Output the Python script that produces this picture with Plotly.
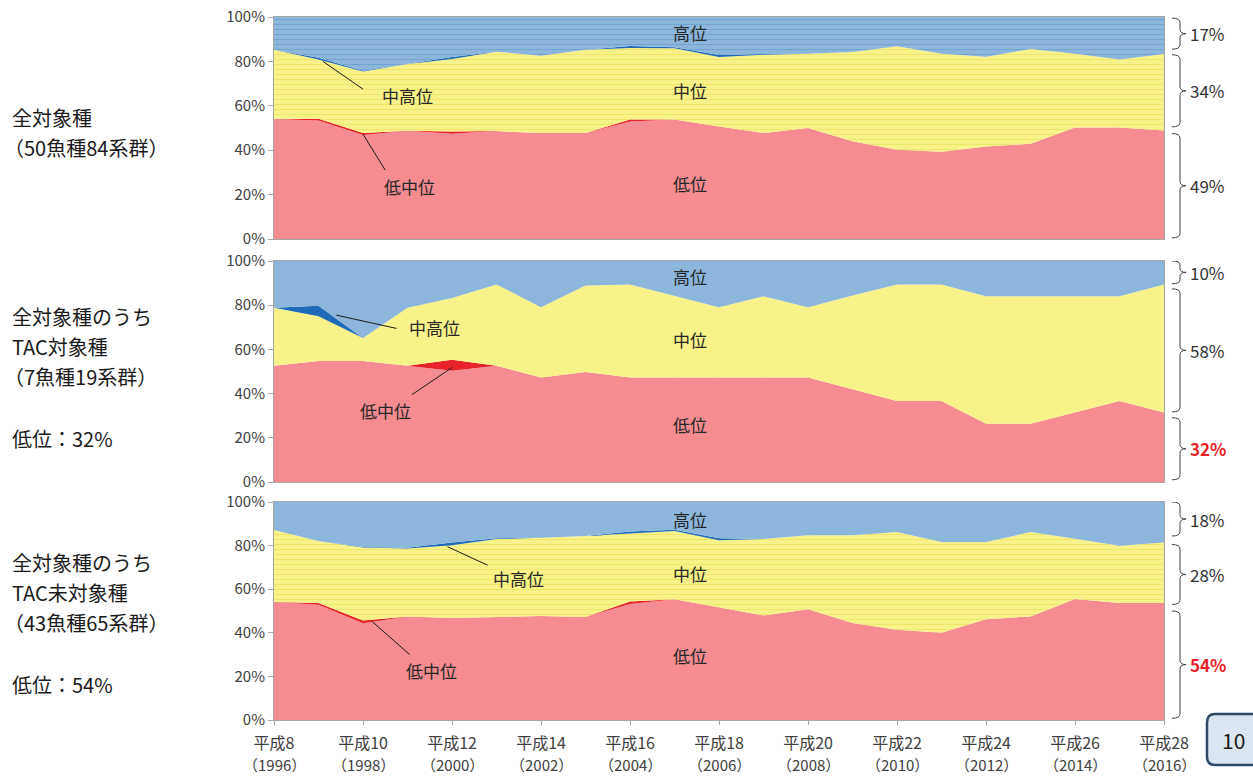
import plotly.graph_objects as go

years = list(range(1996, 2017))
tick_years = list(range(1996, 2017, 2))
tick_era = ["平成8", "平成10", "平成12", "平成14", "平成16", "平成18",
            "平成20", "平成22", "平成24", "平成26", "平成28"]
tick_western = ["（1996）", "（1998）", "（2000）", "（2002）", "（2004）", "（2006）",
                "（2008）", "（2010）", "（2012）", "（2014）", "（2016）"]
series_names = ["低位", "低中位", "中位", "中高位", "高位"]

# Panel 1: 全対象種
low1 = [54.1, 53.4, 46.8, 48.8, 47.4, 48.6, 47.7, 47.7, 52.9, 53.8, 50.7, 47.7, 50.0, 44.0, 40.2, 39.3, 41.7, 42.9, 50.2, 50.2, 48.9]
lowmid1 = [0, 0.8, 1.0, 0, 1.0, 0, 0, 0, 0.9, 0, 0, 0, 0, 0, 0, 0, 0, 0, 0, 0, 0]
mid1 = [31.2, 26.6, 27.7, 30.0, 32.7, 35.8, 34.9, 37.6, 32.2, 32.1, 31.3, 35.3, 33.5, 40.2, 46.6, 44.2, 40.4, 42.7, 33.3, 30.6, 34.4]
midhigh1 = [0, 0.8, 0.3, 0, 0.9, 0, 0, 0, 0.9, 0.5, 0.9, 0.3, 0, 0, 0, 0, 0, 0, 0, 0, 0]
high1 = [14.7, 18.4, 24.2, 21.2, 18.0, 15.6, 17.4, 14.7, 13.1, 13.6, 17.1, 16.7, 16.5, 15.8, 13.2, 16.5, 17.9, 14.4, 16.5, 19.2, 16.7]

# Panel 2: TAC対象種
low2 = [52.6, 54.8, 54.8, 52.6, 50.3, 52.6, 47.3, 49.8, 47.3, 47.3, 47.3, 47.3, 47.3, 42.0, 36.7, 36.7, 26.4, 26.4, 31.5, 36.7, 31.5]
lowmid2 = [0, 0, 0, 0, 5.0, 0, 0, 0, 0, 0, 0, 0, 0, 0, 0, 0, 0, 0, 0, 0, 0]
mid2 = [26.2, 20.2, 10.4, 26.2, 28.0, 36.8, 31.8, 39.1, 42.1, 37.1, 31.8, 36.8, 31.8, 42.4, 52.7, 52.7, 57.7, 57.7, 52.6, 47.4, 57.9]
midhigh2 = [0, 4.8, 0, 0, 0, 0, 0, 0, 0, 0, 0, 0, 0, 0, 0, 0, 0, 0, 0, 0, 0]
high2 = [21.2, 20.2, 34.8, 21.2, 16.7, 10.6, 20.9, 11.1, 10.6, 15.6, 20.9, 15.9, 20.9, 15.6, 10.6, 10.6, 15.9, 15.9, 15.9, 15.9, 10.6]

# Panel 3: TAC未対象種
low3 = [54.1, 52.9, 44.4, 47.5, 46.8, 47.2, 47.7, 47.2, 53.2, 55.4, 51.5, 47.9, 50.8, 44.5, 41.4, 40.0, 46.2, 47.5, 55.5, 53.7, 53.7]
lowmid3 = [0, 0.8, 1.2, 0, 0, 0, 0, 0, 1.2, 0, 0, 0, 0, 0, 0, 0, 0, 0, 0, 0, 0]
mid3 = [33.0, 28.4, 33.5, 31.2, 33.4, 35.8, 35.9, 37.2, 31.2, 31.3, 31.0, 35.1, 34.0, 40.3, 44.8, 41.6, 35.4, 38.7, 27.6, 26.2, 27.7]
midhigh3 = [0, 0, 0.3, 0.3, 1.2, 0.4, 0, 0, 0.9, 0.6, 0.9, 0, 0, 0, 0, 0, 0, 0, 0, 0, 0]
high3 = [12.9, 17.9, 20.6, 21.0, 18.6, 16.6, 16.4, 15.6, 13.5, 12.7, 16.6, 17.0, 15.2, 15.2, 13.8, 18.4, 18.4, 13.8, 16.9, 20.1, 18.6]

# bracket labels (right side)
bracket_labels1 = ["17%", "34%", "49%"]
bracket_labels2 = ["10%", "58%", "32%"]
bracket_labels3 = ["18%", "28%", "54%"]

panel_title_lines = [
    ["全対象種", "（50魚種84系群）"],
    ["全対象種のうち", "TAC対象種", "（7魚種19系群）", "", "低位：32%"],
    ["全対象種のうち", "TAC未対象種", "（43魚種65系群）", "", "低位：54%"],
]

# ---------------- styling / layout ----------------
W, H = 1253, 776
PL, PR, PT, PB = 274, 1164, 17, 720
FONT = "Noto Sans CJK JP"
colors = ["#F48C91", "#E8242B", "#F8F28A", "#1E6BB8", "#8CB6DC"]
pat_fg = [None, None, "#E6D74C", None, "#5E8FC2"]


def px_x(px):
    return (px - PL) / (PR - PL)


def px_y(py):
    return (PB - py) / (PB - PT)


panels = [
    ([low1, lowmid1, mid1, midhigh1, high1], (239, 17), True, True),
    ([low2, lowmid2, mid2, midhigh2, high2], (482, 261), False, False),
    ([low3, lowmid3, mid3, midhigh3, high3], (720, 502), True, False),
]

fig = go.Figure()
for i, (vals, (ybot, ytop), pat_y, pat_b) in enumerate(panels):
    xa = "x" if i == 0 else f"x{i+1}"
    ya = "y" if i == 0 else f"y{i+1}"
    for k, (name, v) in enumerate(zip(series_names, vals)):
        kw = {}
        if (k == 2 and pat_y) or (k == 4 and pat_b):
            kw["fillpattern"] = dict(shape="-", bgcolor=colors[k], fgcolor=pat_fg[k],
                                     size=5, solidity=0.2)
        fig.add_trace(go.Scatter(
            x=years, y=v, name=name, mode="lines", stackgroup=f"g{i}",
            line=dict(width=0, color=colors[k]), fillcolor=colors[k],
            xaxis=xa, yaxis=ya, showlegend=False, hoverinfo="skip", **kw))

layout = dict(width=W, height=H, paper_bgcolor="white", plot_bgcolor="white",
              margin=dict(l=PL, r=W - PR, t=PT, b=H - PB, pad=0, autoexpand=False),
              font=dict(family=FONT, color="#404040"), showlegend=False)
grid = "rgba(120,120,120,0.35)"
for i, (vals, (ybot, ytop), _, _) in enumerate(panels):
    xk = "xaxis" if i == 0 else f"xaxis{i+1}"
    yk = "yaxis" if i == 0 else f"yaxis{i+1}"
    layout[xk] = dict(
        domain=[0, 1], range=[1996, 2016], anchor="y" if i == 0 else f"y{i+1}",
        tickvals=tick_years, ticktext=tick_era, showticklabels=(i == 2),
        tickfont=dict(size=16, color="#404040", family=FONT), ticklabelstandoff=5,
        showgrid=True, gridcolor=grid, gridwidth=1,
        minor=dict(dtick=1, showgrid=True, gridcolor=grid, gridwidth=1),
        showline=True, linecolor="#A6A6A6", linewidth=1, mirror=True,
        ticks="outside" if i == 2 else "", ticklen=4, tickcolor="#A6A6A6",
        layer="above traces", zeroline=False, fixedrange=True, automargin=False)
    layout[yk] = dict(
        domain=[px_y(ybot), px_y(ytop)], range=[0, 100], anchor="x" if i == 0 else f"x{i+1}",
        tickvals=[0, 20, 40, 60, 80, 100], ticktext=["0%", "20%", "40%", "60%", "80%", "100%"],
        tickfont=dict(size=15, color="#404040", family=FONT),
        showgrid=True, gridcolor=grid, gridwidth=1,
        showline=True, linecolor="#A6A6A6", linewidth=1, mirror=True,
        ticks="outside", ticklen=5, tickcolor="#A6A6A6",
        layer="above traces", zeroline=False, fixedrange=True, automargin=False)
fig.update_layout(**layout)

ann = []
shapes = []
lab_font = dict(family=FONT, size=17, color="#262626")

# second line of x tick labels (western year)
for yv, t in zip(tick_years, tick_western):
    ann.append(dict(x=yv, y=px_y(764), xref="x3", yref="paper", text=t, showarrow=False,
                    xanchor="center", yanchor="middle",
                    font=dict(family=FONT, size=15, color="#404040")))

# in-plot series labels
inplot = [
    (1, [(2005.35, 92.8, "高位"), (2005.35, 67, "中位"), (2005.35, 25.2, "低位")]),
    (2, [(2005.35, 92.8, "高位"), (2005.35, 64.3, "中位"), (2005.35, 26.2, "低位")]),
    (3, [(2005.35, 92.2, "高位"), (2005.35, 67, "中位"), (2005.35, 29.8, "低位")]),
]
for p, items in inplot:
    xr = "x" if p == 1 else f"x{p}"
    yr = "y" if p == 1 else f"y{p}"
    for x, y, t in items:
        ann.append(dict(x=x, y=y, xref=xr, yref=yr, text=t, showarrow=False, font=lab_font,
                        xanchor="center", yanchor="middle"))

# callouts with leader lines: (panel, point x, point y, text x, text y, text, line end x, line end y)
callouts = [
    (1, 1997.1, 80.0, 1999.0, 64.5, "中高位", 1998.0, 67.5),
    (1, 1998.0, 47.2, 1999.05, 23.5, "低中位", 1998.5, 31.0),
    (2, 1997.4, 75.5, 1999.6, 70.0, "中高位", 1998.75, 69.5),
    (2, 2000.0, 51.8, 1998.5, 32.5, "低中位", 1999.1, 39.5),
    (3, 1999.9, 79.5, 2001.5, 65.0, "中高位", 2000.8, 71.0),
    (3, 1998.2, 45.3, 1999.55, 22.5, "低中位", 1999.05, 30.0),
]
for p, x0, y0, tx, ty, t, x1, y1 in callouts:
    xr = "x" if p == 1 else f"x{p}"
    yr = "y" if p == 1 else f"y{p}"
    ann.append(dict(x=tx, y=ty, xref=xr, yref=yr, text=t, showarrow=False, font=lab_font,
                    xanchor="center", yanchor="middle"))
    shapes.append(dict(type="line", xref=xr, yref=yr, x0=x0, y0=y0, x1=x1, y1=y1,
                       line=dict(color="#1a1a1a", width=1)))

# right-hand brackets
brackets = [
    (1, [(99.5, 85.5), (83.0, 50.5), (47.5, 0.5)], bracket_labels1, [False, False, False]),
    (2, [(100.0, 89.7), (87.4, 31.7), (29.1, 1.0)], bracket_labels2, [False, False, True]),
    (3, [(100.0, 84.4), (80.5, 53.0), (50.0, 0.8)], bracket_labels3, [False, False, True]),
]
bx0, bx1, bx2 = px_x(1172), px_x(1180), px_x(1186)
for p, spans, labels, reds in brackets:
    yr = "y" if p == 1 else f"y{p}"
    for (top, bot), lab, red in zip(spans, labels, reds):
        mid = (top + bot) / 2
        d = min(2.0, (top - bot) / 6)
        path = (f"M {bx0},{top} Q {bx1},{top} {bx1},{top-d} L {bx1},{mid+d} "
                f"Q {bx1},{mid} {bx2},{mid} Q {bx1},{mid} {bx1},{mid-d} "
                f"L {bx1},{bot+d} Q {bx1},{bot} {bx0},{bot}")
        shapes.append(dict(type="path", xref="paper", yref=yr, path=path,
                           line=dict(color="#404040", width=1)))
        ann.append(dict(x=px_x(1188), y=mid, xref="paper", yref=yr, text=f"<b>{lab}</b>" if red else lab,
                        xanchor="left", yanchor="middle", showarrow=False,
                        font=dict(family=FONT, size=17, color="#E8242B" if red else "#333333")))

# left-hand panel titles (one annotation per line)
title_first_y = [117, 316, 562]
for lines, y0 in zip(panel_title_lines, title_first_y):
    for j, t in enumerate(lines):
        if not t:
            continue
        yy = y0 + 30 * j if j < 3 else y0 + 122
        xx = 2 if t.startswith("（") else 10
        ann.append(dict(x=px_x(xx), y=px_y(yy), xref="paper", yref="paper", text=t,
                        xanchor="left", yanchor="middle", align="left",
                        showarrow=False, font=dict(family=FONT, size=20, color="#1a1a1a")))

# page number box
x0b, x1b, y0b, y1b, r = px_x(1207), px_x(1262), px_y(714), px_y(765), 0.009
ry = 0.012
shapes.append(dict(type="path", xref="paper", yref="paper",
                   path=(f"M {x0b+r},{y0b} L {x1b-r},{y0b} Q {x1b},{y0b} {x1b},{y0b-ry} "
                         f"L {x1b},{y1b+ry} Q {x1b},{y1b} {x1b-r},{y1b} L {x0b+r},{y1b} "
                         f"Q {x0b},{y1b} {x0b},{y1b+ry} L {x0b},{y0b-ry} Q {x0b},{y0b} {x0b+r},{y0b} Z"),
                   fillcolor="#DCE6F2", line=dict(color="#2E4A66", width=2.5)))
ann.append(dict(x=px_x(1233), y=px_y(740), xref="paper", yref="paper", text="10",
                xanchor="center", yanchor="middle",
                showarrow=False, font=dict(family=FONT, size=21, color="#1a1a1a")))

fig.update_layout(annotations=ann, shapes=shapes)
fig.write_html("out.html", config={"displayModeBar": False},
               post_script="document.body.style.margin='0px';document.body.style.overflow='hidden';")
